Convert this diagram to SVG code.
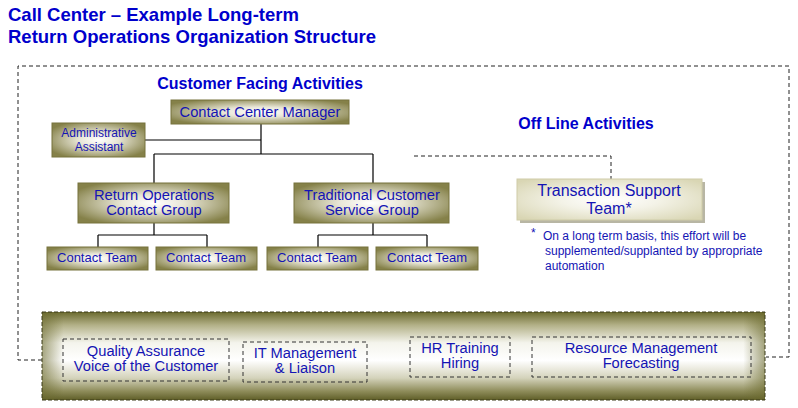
<svg xmlns="http://www.w3.org/2000/svg" width="798" height="408" viewBox="0 0 798 408">
<defs>
<radialGradient id="olive" cx="0.5" cy="0.5" r="0.6">
<stop offset="0" stop-color="#ffffff"/>
<stop offset="0.35" stop-color="#e8e6d6"/>
<stop offset="1" stop-color="#858149"/>
</radialGradient>
<radialGradient id="khaki" cx="0.5" cy="0.5" r="0.65">
<stop offset="0" stop-color="#ffffff"/>
<stop offset="0.4" stop-color="#f4f3e8"/>
<stop offset="1" stop-color="#d9d6b4"/>
</radialGradient>
<linearGradient id="bar" x1="0" y1="0" x2="0" y2="1">
<stop offset="0" stop-color="#6b6a2e"/>
<stop offset="0.15" stop-color="#b3b188"/>
<stop offset="0.35" stop-color="#f4f4ec"/>
<stop offset="0.55" stop-color="#ffffff"/>
<stop offset="0.75" stop-color="#d4d3bb"/>
<stop offset="0.9" stop-color="#8e8c5a"/>
<stop offset="1" stop-color="#5f5e28"/>
</linearGradient>
<linearGradient id="barside" x1="0" y1="0" x2="1" y2="0">
<stop offset="0" stop-color="#6b6a2e" stop-opacity="0.6"/>
<stop offset="0.03" stop-color="#6b6a2e" stop-opacity="0"/>
<stop offset="0.97" stop-color="#6b6a2e" stop-opacity="0"/>
<stop offset="1" stop-color="#6b6a2e" stop-opacity="0.6"/>
</linearGradient>
</defs>
<style>
text{font-family:"Liberation Sans",Arial,sans-serif;}
.title{font-size:18.5px;font-weight:bold;fill:#0000cc;}
.head{font-size:16px;font-weight:bold;fill:#0000cc;text-anchor:middle;}
.box{fill:url(#olive);stroke:#77733d;stroke-width:1;}
.lbl{font-size:14.7px;fill:#1414b4;text-anchor:middle;}
.sm{font-size:12px;fill:#1414b4;text-anchor:middle;}
.ct{font-size:13px;fill:#1414b4;text-anchor:middle;}
.note{font-size:12px;fill:#1414b4;}
.line{stroke:#000;stroke-width:1.2;fill:none;}
.dash{stroke:#222;stroke-width:1;fill:none;stroke-dasharray:4,3;}
.idash{stroke:#333;stroke-width:1;fill:none;stroke-dasharray:4,3;}
</style>
<rect width="798" height="408" fill="#ffffff"/>
<text class="title" x="8" y="21">Call Center – Example Long-term</text>
<text class="title" x="8" y="43">Return Operations Organization Structure</text>

<g id="connectors">
<path class="dash" d="M42,360 H18 V66 H789 V357 H766"/>
<path class="dash" d="M414,156 H611 V180"/>
<path class="line" d="M261,124 V154 M145,140 H261 M154,154 H373 M154,154 V183 M373,154 V183"/>
<path class="line" d="M154,223 V235 M98,235 H207 M98,235 V247 M207,235 V247"/>
<path class="line" d="M373,223 V235 M318,235 H427 M318,235 V247 M427,235 V247"/>
</g>

<text class="head" x="260" y="89">Customer Facing Activities</text>
<text class="head" x="586" y="129">Off Line Activities</text>

<g id="manager">
<rect class="box" x="171" y="100" width="178" height="24"/>
<text class="lbl" x="260" y="117">Contact Center Manager</text>
</g>
<g id="admin">
<rect class="box" x="52" y="123" width="93" height="34"/>
<text class="sm" x="99" y="137">Administrative</text>
<text class="sm" x="99" y="151">Assistant</text>
</g>
<g id="rocg">
<rect class="box" x="78" y="183" width="151" height="40"/>
<text class="lbl" x="154" y="200">Return Operations</text>
<text class="lbl" x="154" y="215">Contact Group</text>
</g>
<g id="tcsg">
<rect class="box" x="294" y="183" width="155" height="40"/>
<text class="lbl" x="372" y="200">Traditional Customer</text>
<text class="lbl" x="372" y="215">Service Group</text>
</g>
<g id="team1">
<rect class="box" x="47" y="247" width="101" height="23"/>
<text class="ct" x="97" y="262">Contact Team</text>
</g>
<g id="team2">
<rect class="box" x="156" y="247" width="101" height="23"/>
<text class="ct" x="206" y="262">Contact Team</text>
</g>
<g id="team3">
<rect class="box" x="267" y="247" width="101" height="23"/>
<text class="ct" x="317" y="262">Contact Team</text>
</g>
<g id="team4">
<rect class="box" x="376" y="247" width="102" height="23"/>
<text class="ct" x="427" y="262">Contact Team</text>
</g>
<g id="tst">
<rect x="520" y="182" width="185" height="41" fill="#b8b6a4"/>
<rect x="517" y="179" width="185" height="41" fill="url(#khaki)" stroke="#cfcca8" stroke-width="1"/>
<text x="609" y="196" font-size="16" fill="#1414b4" text-anchor="middle">Transaction Support</text>
<text x="609" y="214" font-size="16" fill="#1414b4" text-anchor="middle">Team*</text>
</g>
<g id="footnote">
<text class="note" x="531" y="237" font-size="14">*</text>
<text class="note" x="543" y="240">On a long term basis, this effort will be</text>
<text class="note" x="545" y="255">supplemented/supplanted by appropriate</text>
<text class="note" x="545" y="270">automation</text>
</g>
<g id="support-bar">
<rect x="42" y="312" width="723" height="88" fill="url(#bar)"/>
<rect x="42" y="312" width="723" height="88" fill="url(#barside)" stroke="#3a3a18" stroke-width="1" stroke-dasharray="4,2"/>
</g>
<g id="qa">
<rect class="idash" x="63" y="339" width="166" height="42"/>
<text class="lbl" x="146" y="356">Quality Assurance</text>
<text class="lbl" x="146" y="371">Voice of the Customer</text>
</g>
<g id="it">
<rect class="idash" x="243" y="342" width="124" height="40"/>
<text class="lbl" x="305" y="358">IT Management</text>
<text class="lbl" x="305" y="373">&amp; Liaison</text>
</g>
<g id="hr">
<rect class="idash" x="410" y="337" width="100" height="40"/>
<text class="lbl" x="460" y="353">HR Training</text>
<text class="lbl" x="460" y="368">Hiring</text>
</g>
<g id="rm">
<rect class="idash" x="532" y="337" width="219" height="40"/>
<text class="lbl" x="641" y="353">Resource Management</text>
<text class="lbl" x="641" y="368">Forecasting</text>
</g>
</svg>
